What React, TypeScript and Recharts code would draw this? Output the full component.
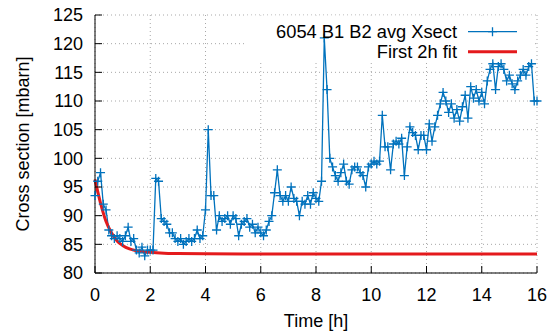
import { CartesianGrid, Legend, Line, LineChart, ReferenceArea, XAxis, YAxis } from "recharts";

// measurement sampled every 0.1 h, from t = 0 to t = 16 h
const SAMPLE_STEP_H = 0.1;

const xsectValues = [
  93.5, 96, 97.5, 92, 91, 87.5, 86.5, 86, 86.5, 86,
  85.5, 86.5, 88, 85.5, 86, 84, 83.5, 84.5, 83, 84,
  84, 84, 96.5, 96, 89.5, 89, 88.5, 87, 87, 86,
  85.5, 86, 85, 85.5, 86, 85.5, 86, 87.5, 86, 86.5,
  91, 105, 93.5, 93.5, 87.5, 90, 89, 89.5, 90, 88.5,
  90, 89.5, 86.5, 88.5, 89, 89.5, 88, 88.5, 87, 88,
  87, 86.5, 87.5, 89, 90, 94, 98, 93.5, 92.5, 93.5,
  92.5, 95, 93, 92.5, 90, 92.5, 92, 93.5, 92, 94,
  93, 92.5, 96, 121, 112, 100, 98.5, 97, 96, 97.5,
  99, 96, 95.5, 98, 98.5, 98.5, 97.5, 97, 95, 98.5,
  99, 99.5, 99, 99.5, 107.5, 102, 102, 98, 102.5, 103,
  102.5, 103.5, 97, 102, 105.5, 104.5, 104, 101.5, 104, 104,
  101.5, 106, 103, 105.5, 107.5, 109.5, 111.5, 110, 108, 109.5,
  107, 108.5, 106.5, 109, 111, 107, 112.5, 110.5, 112, 110,
  111.5, 109.5, 113.5, 115.5, 116.5, 112, 116, 116.5, 115.5, 113.5,
  114.5, 113, 112, 113.5, 114.5, 115.5, 114.5, 116, 116.5, 110,
  110,
];

const fitTimes = [0, 0.2, 0.4, 0.6, 0.8, 1.0, 1.25, 1.5, 2, 2.5, 3, 4, 6, 8, 10, 12, 14, 16];
const fitValues = [96.3, 92.2, 89.0, 87.0, 85.6, 84.8, 84.2, 83.9, 83.6, 83.45, 83.4, 83.35, 83.3, 83.3, 83.3, 83.3, 83.3, 83.3];

const timeTicks = [0, 2, 4, 6, 8, 10, 12, 14, 16];
const xsectTicks = [80, 85, 90, 95, 100, 105, 110, 115, 120, 125];

const seriesName = "6054 B1 B2 avg Xsect";
const fitName = "First 2h fit";
const xLabel = "Time [h]";
const yLabel = "Cross section [mbarn]";

const xsectData = xsectValues.map((v, i) => ({ t: Math.round(i * SAMPLE_STEP_H * 100) / 100, xsect: v }));
const fitData = fitTimes.map((t, i) => ({ t, fit: fitValues[i] }));

const BLUE = "#0072bd";
const RED = "#e41a1c";
const FONT = '"Liberation Sans", Arial, sans-serif';

function plusPath(cx: number, cy: number) {
  return `M${cx - 4.5},${cy}h9M${cx},${cy - 4.5}v9`;
}

function PlusDot(props: any) {
  const { cx, cy, index } = props;
  if (cx == null || cy == null) return <g key={index} />;
  return <path key={index} d={plusPath(cx, cy)} stroke={BLUE} strokeWidth={1.3} fill="none" />;
}

function KeyBox() {
  return (
    <svg width={558} height={70} style={{ display: "block", fontFamily: FONT }}>
      <text x={457} y={38} textAnchor="end" fontSize={18.3} fill="#000">{seriesName}</text>
      <line x1={468} x2={517} y1={31.7} y2={31.7} stroke={BLUE} strokeWidth={1.3} />
      <path d={plusPath(492.5, 31.7)} stroke={BLUE} strokeWidth={1.3} fill="none" />
      <text x={457} y={58.4} textAnchor="end" fontSize={18.3} fill="#000">{fitName}</text>
      <line x1={468} x2={517} y1={51.7} y2={51.7} stroke={RED} strokeWidth={3} />
    </svg>
  );
}

export default function App() {
  const tickStyle = { fill: "#000", fontSize: 18, fontFamily: FONT };
  return (
    <div style={{ position: "absolute", left: 0, top: 0, width: 558, height: 331, background: "#fff", fontFamily: FONT }}>
      <LineChart width={558} height={331} margin={{ top: 15, right: 21, bottom: 0, left: 1 }}>
        <CartesianGrid stroke="#a8a8a8" strokeDasharray="1 3" />
        <XAxis
          type="number"
          dataKey="t"
          domain={[0, 16]}
          ticks={timeTicks}
          interval={0}
          height={58}
          tickSize={-7}
          tickMargin={22}
          tick={tickStyle}
          axisLine={{ stroke: "#000" }}
          tickLine={{ stroke: "#000" }}
          label={{
            content: () => (
              <text x={316} y={327} textAnchor="middle" fontSize={18} fill="#000" fontFamily={FONT}>{xLabel}</text>
            ),
          }}
        />
        <XAxis
          xAxisId="top"
          orientation="top"
          type="number"
          dataKey="t"
          domain={[0, 16]}
          ticks={timeTicks}
          interval={0}
          height={0}
          tickSize={-7}
          tick={false}
          axisLine={{ stroke: "#000" }}
          tickLine={{ stroke: "#000" }}
        />
        <YAxis
          type="number"
          domain={[80, 125]}
          ticks={xsectTicks}
          interval={0}
          width={94}
          tickSize={-7}
          tickMargin={19}
          tick={tickStyle}
          axisLine={{ stroke: "#000" }}
          tickLine={{ stroke: "#000" }}
          label={{
            content: () => (
              <text x={29} y={144} transform="rotate(-90 29 144)" textAnchor="middle" fontSize={18} fill="#000" fontFamily={FONT}>
                {yLabel}
              </text>
            ),
          }}
        />
        <YAxis
          yAxisId="right"
          orientation="right"
          type="number"
          domain={[80, 125]}
          ticks={xsectTicks}
          interval={0}
          width={0}
          tickSize={-7}
          tick={false}
          axisLine={{ stroke: "#000" }}
          tickLine={{ stroke: "#000" }}
        />
        {/* opaque key background hides the grid behind the legend */}
        <ReferenceArea x1={5.4} x2={15.85} y1={116.9} y2={124.9} fill="#fff" fillOpacity={1} stroke="none" />
        <Line
          data={xsectData}
          dataKey="xsect"
          name={seriesName}
          type="linear"
          stroke={BLUE}
          strokeWidth={1.3}
          dot={PlusDot}
          activeDot={false}
          isAnimationActive={false}
        />
        <Line
          data={fitData}
          dataKey="fit"
          name={fitName}
          type="monotone"
          stroke={RED}
          strokeWidth={3}
          dot={false}
          activeDot={false}
          isAnimationActive={false}
        />
        <Legend
          layout="horizontal"
          verticalAlign="middle"
          align="center"
          wrapperStyle={{ position: "absolute", left: 0, top: 0, width: 558, height: 70, margin: 0 }}
          content={() => <KeyBox />}
        />
      </LineChart>
    </div>
  );
}
